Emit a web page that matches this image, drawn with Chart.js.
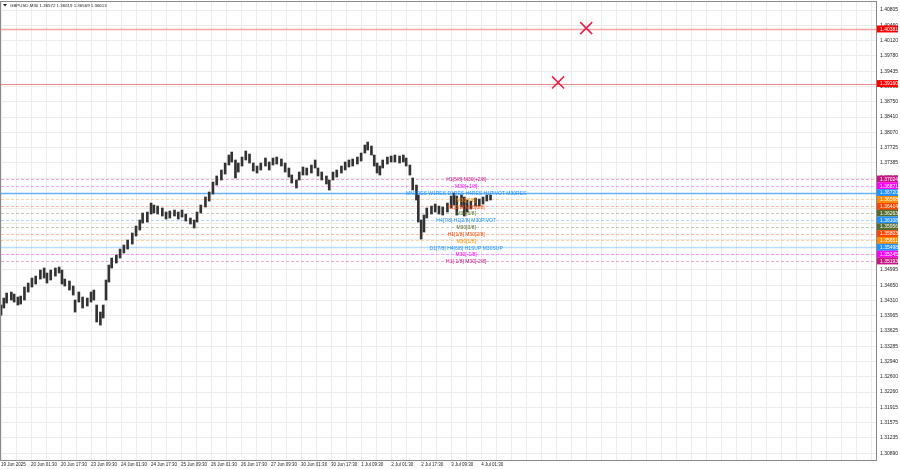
<!DOCTYPE html>
<html>
<head>
<meta charset="utf-8">
<title>GBPUSD,M30</title>
<script src="https://cdn.jsdelivr.net/npm/chart.js@4.4.1/dist/chart.umd.min.js"></script>
<style>
  html, body { margin: 0; padding: 0; background: #fff; }
  #wrap { width: 900px; height: 469px; position: relative; }
</style>
</head>
<body>
<div id="wrap"><canvas id="grafico"></canvas></div>
<script>
// M30 bar index, counted from 19 Jun 2025 09:30
const bars = [0,3,6,11,14,18,21,25,29,33,37,42,46,49,53,58,62,65,68,73,77,79,83,87,92,96,99,102,106,109,
  112,115,118,123,127,131,135,140,144,148,151,156,160,163,167,172,176,180,185,189,193,197,202,206,209,213,218,222,226,230,
  235,239,243,246,250,253,257,261,265,269,273,277,282,286,290,294,299,303,307,310,315,318,322,326,331,335,338,342,347,350,
  354,358,363,367,371,375,380,384,388,391,395,398,401,404,407,412,416,420,425,429,432,436,439,443,445,448,451,454,459,463,
  467,471,476,480,483,486,491,494,497,501,506,510,514,518,522]

const highs = [1.34206,1.34362,1.34474,1.34497,1.34452,1.34385,1.34407,1.34609,1.34698,1.34810,
  1.34854,1.34989,1.35034,1.34922,1.34989,1.35034,1.35056,1.34989,1.34787,1.34743,
  1.34631,1.34318,1.34497,1.34385,1.34362,1.34497,1.34541,1.34206,1.34049,1.34206,
  1.34765,1.35101,1.35257,1.35324,1.35458,1.35548,1.35660,1.35817,1.35973,1.36107,
  1.36264,1.36286,1.36488,1.36443,1.36420,1.36376,1.36286,1.36309,1.36331,1.36286,
  1.36331,1.36241,1.36152,1.36107,1.36286,1.36443,1.36622,1.36734,1.36957,1.37092,
  1.37226,1.37382,1.37561,1.37628,1.37450,1.37382,1.37516,1.37651,1.37584,1.37382,
  1.37315,1.37382,1.37494,1.37405,1.37494,1.37516,1.37472,1.37382,1.37271,1.37114,
  1.37002,1.37181,1.37293,1.37271,1.37338,1.37450,1.37271,1.37181,1.37092,1.37002,
  1.37181,1.37226,1.37315,1.37405,1.37450,1.37472,1.37516,1.37606,1.37785,1.37852,
  1.37763,1.37561,1.37382,1.37315,1.37450,1.37516,1.37539,1.37561,1.37539,1.37561,
  1.37494,1.37338,1.37047,1.36890,1.36667,1.36107,1.36219,1.36376,1.36420,1.36465,
  1.36420,1.36398,1.36488,1.36644,1.36711,1.36644,1.36667,1.36622,1.36555,1.36532,
  1.36599,1.36577,1.36622,1.36667,1.36667]

const lows = [1.33982,1.34139,1.34251,1.34318,1.34273,1.34206,1.34228,1.34318,1.34497,1.34609,
  1.34676,1.34787,1.34810,1.34698,1.34765,1.34854,1.34922,1.34676,1.34631,1.34541,
  1.34429,1.34049,1.34273,1.34139,1.34184,1.34273,1.34318,1.33826,1.33758,1.33915,
  1.34318,1.34720,1.35034,1.35145,1.35257,1.35369,1.35458,1.35570,1.35749,1.35884,
  1.36040,1.36062,1.36241,1.36264,1.36241,1.36197,1.36130,1.36152,1.36197,1.36130,
  1.36174,1.36085,1.36018,1.35928,1.36062,1.36264,1.36398,1.36532,1.36689,1.36890,
  1.37002,1.37136,1.37338,1.37405,1.37047,1.37181,1.37315,1.37450,1.37382,1.37203,
  1.37159,1.37226,1.37315,1.37226,1.37338,1.37360,1.37315,1.37181,1.37069,1.36935,
  1.36823,1.37002,1.37114,1.37114,1.37159,1.37271,1.37092,1.37002,1.36913,1.36778,
  1.37002,1.37069,1.37159,1.37226,1.37293,1.37315,1.37360,1.37427,1.37606,1.37673,
  1.37561,1.37315,1.37159,1.37114,1.37271,1.37360,1.37405,1.37405,1.37382,1.37405,
  1.37315,1.37114,1.36778,1.36555,1.36062,1.35682,1.35839,1.36152,1.36241,1.36286,
  1.36241,1.36219,1.36286,1.36376,1.36443,1.36219,1.36398,1.36197,1.36286,1.36353,
  1.36420,1.36420,1.36465,1.36532,1.36555]

// Murrey levels
const levels = [1.37024,1.36871,1.36720,1.36568,1.36414,1.36263,1.36108,1.35956,1.35803,1.35651,1.35498,1.35345,1.35193]
const levelNames = ["H1[5/8] M30[+2/8]","M30[+1/8]","MN1RES W1RES D1RES H4RES H1PIVOT M30RES","M30[7/8]",
  "H1[3/8] M30[6/8]","M30[5/8]","H4[7/8] H1[2/8] M30PIVOT","M30[3/8]","H1[1/8] M30[2/8]","M30[1/8]",
  "D1[7/8] H4[6/8] H1SUP M30SUP","M30[-1/8]","H1[-1/8] M30[-2/8]"]
const levelColors = ['#c71585','#ff00ff','#1e90ff','#ff8c00','#ff4500','#556b2f','#1e90ff','#556b2f','#ff4500','#ff8c00','#1e90ff','#ff00ff','#c71585']

// target levels with X marks
const targets = [1.40381, 1.39160]
const markBars = [624, 594]
const markPrices = [1.40400, 1.39185]

const timeLabels = ["19 Jun 2025","20 Jun 01:30","20 Jun 17:30","23 Jun 09:30","24 Jun 01:30","24 Jun 17:30",
  "25 Jun 09:30","26 Jun 01:30","26 Jun 17:30","27 Jun 09:30","30 Jun 01:30","30 Jun 17:30","1 Jul 09:30",
  "2 Jul 01:30","2 Jul 17:30","3 Jul 09:30","4 Jul 01:30"]

const priceTicks = [1.40805,1.40460,1.40120,1.39780,1.39435,1.39095,1.38750,1.38410,1.38070,1.37725,1.37385,
  1.37045,1.36700,1.36360,1.36020,1.35675,1.35335,1.34995,1.34650,1.34310,1.33965,1.33625,1.33285,1.32940,
  1.32600,1.32260,1.31915,1.31575,1.31235,1.30890]

const header = "GBPUSD,M30 1.36572 1.36619 1.36569 1.36613"
const FAMILIA = '"Liberation Sans", Arial, sans-serif'
const FONT = '5px ' + FAMILIA

const niveis = {
  id: 'niveis',
  beforeDatasetsDraw(chart) {
    const ctx = chart.ctx, a = chart.chartArea, y = chart.scales.y
    ctx.save()
    ctx.beginPath(); ctx.rect(a.left, a.top, a.right - a.left, a.bottom - a.top); ctx.clip()
    // red target lines
    targets.forEach((t, i) => {
      const py = Math.round(y.getPixelForValue(t)) + 0.5
      ctx.strokeStyle = i == 0 ? '#f6a3a3' : '#f08a8a'
      ctx.lineWidth = i == 0 ? 1.5 : 1
      ctx.beginPath(); ctx.moveTo(a.left, py); ctx.lineTo(a.right, py); ctx.stroke()
    })
    levels.forEach((lv, i) => {
      const py = Math.round(y.getPixelForValue(lv)) + 0.5
      ctx.strokeStyle = levelColors[i]
      if (i == 2) { ctx.globalAlpha = 0.65; ctx.lineWidth = 1.6; ctx.setLineDash([]) }
      else if (i == 10) { ctx.globalAlpha = 0.3; ctx.lineWidth = 1.5; ctx.setLineDash([]) }
      else { ctx.globalAlpha = 0.35; ctx.lineWidth = 1; ctx.setLineDash([3, 2]) }
      ctx.beginPath(); ctx.moveTo(a.left, py); ctx.lineTo(a.right, py); ctx.stroke()
    })
    ctx.restore()
  },
  afterDatasetsDraw(chart) {
    const ctx = chart.ctx, x = chart.scales.x, y = chart.scales.y
    ctx.save()
    ctx.font = FONT
    ctx.textAlign = 'center'
    ctx.textBaseline = 'middle'
    const cx = x.getPixelForValue(496)
    levels.forEach((lv, i) => {
      ctx.fillStyle = levelColors[i]
      ctx.fillText(levelNames[i], cx, y.getPixelForValue(lv) + 1)
    })
    ctx.restore()
  },
  afterDraw(chart) {
    const ctx = chart.ctx, a = chart.chartArea, y = chart.scales.y
    ctx.save()
    // borders
    ctx.strokeStyle = '#8a8a8a'; ctx.lineWidth = 1
    ctx.strokeRect(a.left - 0.5, a.top - 0.5, a.right - a.left + 1, a.bottom - a.top + 1)
    // price boxes on the axis
    ctx.font = FONT
    ctx.textAlign = 'left'; ctx.textBaseline = 'middle'
    const caixa = (v, cor) => {
      const py = y.getPixelForValue(v)
      ctx.fillStyle = cor
      ctx.fillRect(a.right + 1, py - 3.5, 21, 7)
      ctx.fillStyle = '#fff'
      ctx.fillText(v.toFixed(5), a.right + 4, py + 0.3)
    }
    targets.forEach(t => caixa(t, '#ff0000'))
    levels.forEach((lv, i) => caixa(lv, levelColors[i]))
    // header
    ctx.fillStyle = '#222'
    ctx.font = '4.4px ' + FAMILIA
    ctx.beginPath(); ctx.moveTo(3, 4); ctx.lineTo(7, 4); ctx.lineTo(5, 6.5); ctx.closePath(); ctx.fill()
    ctx.fillText(header, 10, 5.5)
    ctx.restore()
  }
}

const grafico = new Chart(document.getElementById('grafico'), {
  type: 'bar',
  data: {
    datasets: [{
      type: 'bar',
      data: bars.map((b, i) => ({ x: b, y: [lows[i], highs[i]] })),
      backgroundColor: '#333333',
      borderWidth: 0,
      barThickness: 2,
      grouped: false
    }, {
      type: 'scatter',
      data: markBars.map((b, i) => ({ x: b, y: markPrices[i] })),
      pointStyle: 'crossRot',
      pointRadius: 8.5,
      borderColor: '#e8234d',
      borderWidth: 1.6,
      clip: false
    }]
  },
  plugins: [niveis],
  options: {
    responsive: true,
    maintainAspectRatio: false,
    animation: false,
    events: [],
    layout: { autoPadding: false, padding: { left: 1, top: 2, right: 0, bottom: 0 } },
    plugins: { legend: { display: false }, tooltip: { enabled: false } },
    scales: {
      x: {
        type: 'linear',
        min: 0,
        max: 933,
        offset: false,
        grid: { color: '#ececec', offset: false, drawTicks: false },
        border: { display: false },
        afterFit: s => { s.height = 9; s.paddingLeft = 0; s.paddingRight = 0 },
        afterBuildTicks: s => {
          const t = []
          for (let v = 0; v <= 933; v += 16) t.push({ value: v })
          s.ticks = t
        },
        ticks: {
          autoSkip: false,
          maxRotation: 0,
          align: 'start',
          padding: 2,
          color: '#222',
          font: { family: FAMILIA, size: 4.5 },
          callback: (v) => (v % 32 == 0 && v / 32 < timeLabels.length) ? timeLabels[v / 32] : ''
        }
      },
      y: {
        type: 'linear',
        position: 'right',
        min: 1.30740,
        max: 1.40984,
        grid: { color: '#ececec', drawTicks: false },
        border: { display: false },
        afterFit: s => { s.width = 24; s.paddingTop = 0; s.paddingBottom = 0 },
        afterBuildTicks: s => { s.ticks = priceTicks.map(v => ({ value: v })) },
        ticks: {
          autoSkip: false,
          crossAlign: 'near',
          padding: 4,
          color: '#222',
          font: { family: FAMILIA, size: 5 },
          callback: v => v.toFixed(5)
        }
      }
    }
  }
})
</script>
</body>
</html>
